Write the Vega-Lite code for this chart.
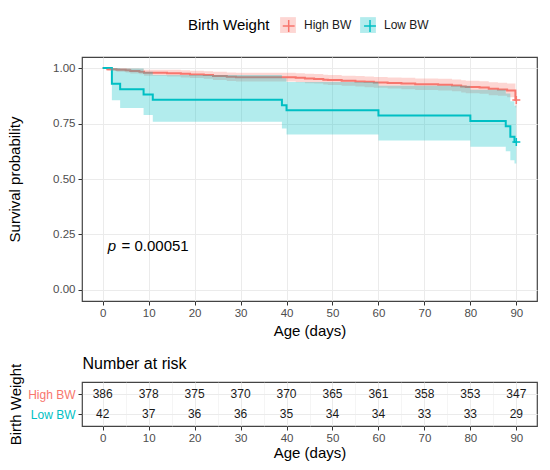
{
  "$schema": "https://vega.github.io/schema/vega-lite/v6.json",
  "padding": {"left": 7, "top": 17, "right": 5, "bottom": 0},
  "background": "white",
  "datasets": {
    "km": [
      {"g": "High BW", "t": 0, "s": 1, "lo": 1, "hi": 1},
      {"g": "High BW", "t": 1, "s": 0.995, "lo": 0.988, "hi": 1},
      {"g": "High BW", "t": 3, "s": 0.992, "lo": 0.983, "hi": 1},
      {"g": "High BW", "t": 5, "s": 0.99, "lo": 0.98, "hi": 1},
      {"g": "High BW", "t": 6, "s": 0.987, "lo": 0.976, "hi": 0.998},
      {"g": "High BW", "t": 8, "s": 0.984, "lo": 0.972, "hi": 0.997},
      {"g": "High BW", "t": 9, "s": 0.979, "lo": 0.965, "hi": 0.993},
      {"g": "High BW", "t": 14, "s": 0.977, "lo": 0.962, "hi": 0.992},
      {"g": "High BW", "t": 17, "s": 0.974, "lo": 0.958, "hi": 0.99},
      {"g": "High BW", "t": 19, "s": 0.9715, "lo": 0.955, "hi": 0.988},
      {"g": "High BW", "t": 22, "s": 0.969, "lo": 0.952, "hi": 0.986},
      {"g": "High BW", "t": 24, "s": 0.964, "lo": 0.946, "hi": 0.983},
      {"g": "High BW", "t": 27, "s": 0.961, "lo": 0.942, "hi": 0.98},
      {"g": "High BW", "t": 29, "s": 0.9585, "lo": 0.939, "hi": 0.979},
      {"g": "High BW", "t": 42, "s": 0.956, "lo": 0.936, "hi": 0.977},
      {"g": "High BW", "t": 44, "s": 0.953, "lo": 0.932, "hi": 0.974},
      {"g": "High BW", "t": 46, "s": 0.951, "lo": 0.93, "hi": 0.973},
      {"g": "High BW", "t": 48, "s": 0.948, "lo": 0.926, "hi": 0.97},
      {"g": "High BW", "t": 49, "s": 0.946, "lo": 0.924, "hi": 0.969},
      {"g": "High BW", "t": 52, "s": 0.943, "lo": 0.92, "hi": 0.966},
      {"g": "High BW", "t": 55, "s": 0.94, "lo": 0.917, "hi": 0.964},
      {"g": "High BW", "t": 57, "s": 0.938, "lo": 0.914, "hi": 0.962},
      {"g": "High BW", "t": 59, "s": 0.935, "lo": 0.911, "hi": 0.96},
      {"g": "High BW", "t": 62, "s": 0.933, "lo": 0.908, "hi": 0.958},
      {"g": "High BW", "t": 65, "s": 0.93, "lo": 0.905, "hi": 0.956},
      {"g": "High BW", "t": 68, "s": 0.927, "lo": 0.901, "hi": 0.953},
      {"g": "High BW", "t": 73, "s": 0.925, "lo": 0.899, "hi": 0.952},
      {"g": "High BW", "t": 76, "s": 0.922, "lo": 0.896, "hi": 0.949},
      {"g": "High BW", "t": 78, "s": 0.917, "lo": 0.89, "hi": 0.945},
      {"g": "High BW", "t": 79, "s": 0.9145, "lo": 0.887, "hi": 0.943},
      {"g": "High BW", "t": 82, "s": 0.912, "lo": 0.884, "hi": 0.941},
      {"g": "High BW", "t": 84, "s": 0.907, "lo": 0.878, "hi": 0.936},
      {"g": "High BW", "t": 86, "s": 0.904, "lo": 0.875, "hi": 0.934},
      {"g": "High BW", "t": 88, "s": 0.899, "lo": 0.869, "hi": 0.93},
      {"g": "High BW", "t": 89.8, "s": 0.856, "lo": 0.822, "hi": 0.892},
      {"g": "High BW", "t": 90, "s": 0.856, "lo": 0.822, "hi": 0.892},
      {"g": "Low BW", "t": 0, "s": 1, "lo": 1, "hi": 1},
      {"g": "Low BW", "t": 2, "s": 0.929, "lo": 0.855, "hi": 1},
      {"g": "Low BW", "t": 3.8, "s": 0.905, "lo": 0.82, "hi": 0.998},
      {"g": "Low BW", "t": 8.9, "s": 0.881, "lo": 0.789, "hi": 0.984},
      {"g": "Low BW", "t": 10.9, "s": 0.857, "lo": 0.758, "hi": 0.969},
      {"g": "Low BW", "t": 39, "s": 0.833, "lo": 0.728, "hi": 0.954},
      {"g": "Low BW", "t": 40, "s": 0.81, "lo": 0.701, "hi": 0.937},
      {"g": "Low BW", "t": 60, "s": 0.786, "lo": 0.674, "hi": 0.92},
      {"g": "Low BW", "t": 80, "s": 0.762, "lo": 0.645, "hi": 0.902},
      {"g": "Low BW", "t": 87.7, "s": 0.738, "lo": 0.625, "hi": 0.885},
      {"g": "Low BW", "t": 88.7, "s": 0.69, "lo": 0.585, "hi": 0.85},
      {"g": "Low BW", "t": 89.6, "s": 0.667, "lo": 0.57, "hi": 0.83},
      {"g": "Low BW", "t": 90, "s": 0.667, "lo": 0.57, "hi": 0.83}
    ],
    "censor": [
      {"g": "High BW", "t": 90, "s": 0.856},
      {"g": "Low BW", "t": 90, "s": 0.667}
    ],
    "pval": [
      {"t": 1.1, "s": 0.2, "label": "p", "part": "p"},
      {"t": 4.1, "s": 0.2, "label": "= 0.00051", "part": "value"}
    ],
    "risk": [
      {"g": "High BW", "t": 0, "n": 386},
      {"g": "High BW", "t": 10, "n": 378},
      {"g": "High BW", "t": 20, "n": 375},
      {"g": "High BW", "t": 30, "n": 370},
      {"g": "High BW", "t": 40, "n": 370},
      {"g": "High BW", "t": 50, "n": 365},
      {"g": "High BW", "t": 60, "n": 361},
      {"g": "High BW", "t": 70, "n": 358},
      {"g": "High BW", "t": 80, "n": 353},
      {"g": "High BW", "t": 90, "n": 347},
      {"g": "Low BW", "t": 0, "n": 42},
      {"g": "Low BW", "t": 10, "n": 37},
      {"g": "Low BW", "t": 20, "n": 36},
      {"g": "Low BW", "t": 30, "n": 36},
      {"g": "Low BW", "t": 40, "n": 35},
      {"g": "Low BW", "t": 50, "n": 34},
      {"g": "Low BW", "t": 60, "n": 34},
      {"g": "Low BW", "t": 70, "n": 33},
      {"g": "Low BW", "t": 80, "n": 33},
      {"g": "Low BW", "t": 90, "n": 29}
    ]
  },
  "spacing": 14,
  "vconcat": [
    {
      "width": 455,
      "height": 244,
      "layer": [
        {
          "data": {"name": "km"},
          "mark": {"type": "line", "interpolate": "step-after", "strokeWidth": 2},
          "encoding": {
            "x": {
              "field": "t", "type": "quantitative",
              "scale": {"domain": [-4.5, 94.5], "nice": false, "zero": false},
              "axis": {
                "title": "Age (days)",
                "values": [0, 5, 10, 15, 20, 25, 30, 35, 40, 45, 50, 55, 60, 65, 70, 75, 80, 85, 90],
                "labelExpr": "datum.value % 10 === 0 ? datum.label : ''",
                "tickOpacity": {"condition": {"test": "datum.value % 10 !== 0", "value": 0}, "value": 1},
                "gridWidth": {"condition": {"test": "datum.value % 10 !== 0", "value": 0.5}, "value": 1},
                "titlePadding": 5
              }
            },
            "y": {
              "field": "s", "type": "quantitative",
              "scale": {"domain": [-0.05, 1.05], "nice": false, "zero": false},
              "axis": {
                "title": "Survival probability",
                "values": [0, 0.125, 0.25, 0.375, 0.5, 0.625, 0.75, 0.875, 1],
                "format": ".2f",
                "labelExpr": "(datum.value * 4) % 1 === 0 ? datum.label : ''",
                "tickOpacity": {"condition": {"test": "(datum.value * 4) % 1 !== 0", "value": 0}, "value": 1},
                "gridWidth": {"condition": {"test": "(datum.value * 4) % 1 !== 0", "value": 0.5}, "value": 1},
                "titlePadding": 30
              }
            },
            "stroke": {
              "field": "g", "type": "nominal",
              "scale": {"domain": ["High BW", "Low BW"], "range": ["#F8766D", "#00BFC4"]},
              "legend": {
                "title": null,
                "orient": "none",
                "legendX": 197.7,
                "legendY": -40,
                "direction": "horizontal",
                "labelExpr": "''",
                "columnPadding": 55.3,
                "symbolType": "M-0.75,0H0.75M0,-0.75V0.75",
                "symbolSize": 250,
                "symbolStrokeWidth": 1.5,
                "symbolFillColor": "transparent",
                "zindex": 2
              }
            }
          }
        },
        {
          "data": {"name": "km"},
          "mark": {"type": "area", "interpolate": "step-after", "opacity": 0.3},
          "encoding": {
            "x": {"field": "t", "type": "quantitative", "scale": {"domain": [-4.5, 94.5], "nice": false, "zero": false}},
            "y": {"field": "lo", "type": "quantitative", "scale": {"domain": [-0.05, 1.05], "nice": false, "zero": false}, "title": "Survival probability"},
            "y2": {"field": "hi"},
            "fill": {
              "field": "g", "type": "nominal",
              "scale": {"range": ["#F8766D", "#00BFC4"]},
              "legend": {
                "title": "Birth Weight",
                "orient": "none",
                "legendX": 106,
                "legendY": -40,
                "direction": "horizontal",
                "titleOrient": "left",
                "symbolType": "square",
                "symbolSize": 250,
                "symbolOpacity": 0.3,
                "symbolStrokeWidth": 0,
                "zindex": 1
              }
            }
          }
        },
        {
          "data": {"name": "censor"},
          "mark": {"type": "point", "shape": "M-1,0H1M0,-1V1", "filled": false, "size": 64, "strokeWidth": 1.5, "opacity": 1},
          "encoding": {
            "x": {"field": "t", "type": "quantitative"},
            "y": {"field": "s", "type": "quantitative"},
            "stroke": {"field": "g", "type": "nominal"}
          }
        },
        {
          "data": {"name": "pval"},
          "transform": [{"filter": "datum.part === 'p'"}],
          "mark": {"type": "text", "align": "left", "baseline": "middle", "fontSize": 15, "fontStyle": "italic", "color": "#000000"},
          "encoding": {
            "x": {"field": "t", "type": "quantitative"},
            "y": {"field": "s", "type": "quantitative"},
            "text": {"field": "label"}
          }
        },
        {
          "data": {"name": "pval"},
          "transform": [{"filter": "datum.part === 'value'"}],
          "mark": {"type": "text", "align": "left", "baseline": "middle", "fontSize": 15, "color": "#000000"},
          "encoding": {
            "x": {"field": "t", "type": "quantitative"},
            "y": {"field": "s", "type": "quantitative"},
            "text": {"field": "label"}
          }
        }
      ]
    },
    {
      "width": 455,
      "height": 44,
      "data": {"name": "risk"},
      "layer": [
        {
          "mark": {"type": "text", "fontSize": 12, "color": "#1A1A1A"},
          "encoding": {
            "x": {
              "field": "t", "type": "quantitative",
              "scale": {"domain": [-4.5, 94.5], "nice": false, "zero": false},
              "axis": {
                "title": "Age (days)",
                "values": [0, 5, 10, 15, 20, 25, 30, 35, 40, 45, 50, 55, 60, 65, 70, 75, 80, 85, 90],
                "labelExpr": "datum.value % 10 === 0 ? datum.label : ''",
                "tickOpacity": {"condition": {"test": "datum.value % 10 !== 0", "value": 0}, "value": 1},
                "gridWidth": {"condition": {"test": "datum.value % 10 !== 0", "value": 0.5}, "value": 1},
                "titlePadding": 2
              }
            },
            "y": {
              "field": "g", "type": "nominal",
              "sort": ["High BW", "Low BW"],
              "scale": {"type": "point", "padding": 0.6},
              "axis": {
                "title": "Birth Weight",
                "labelFontSize": 12,
                "labelColor": {"condition": {"test": "datum.value === 'High BW'", "value": "#F8766D"}, "value": "#00BFC4"},
                "titlePadding": 4,
                "grid": true
              }
            },
            "text": {"field": "n", "type": "quantitative"}
          }
        },
        {
          "mark": {"type": "point", "opacity": 0},
          "encoding": {
            "x": {
              "field": "t", "type": "quantitative",
              "scale": {"domain": [-4.5, 94.5], "nice": false, "zero": false},
              "axis": {
                "orient": "top",
                "title": "Number at risk",
                "titleAnchor": "start",
                "titleFontSize": 16,
                "titleColor": "#000000",
                "titlePadding": 11,
                "labels": false,
                "ticks": false,
                "grid": false,
                "domain": false
              }
            }
          }
        }
      ],
      "resolve": {"axis": {"x": "independent"}}
    }
  ],
  "config": {
    "font": "Liberation Sans",
    "view": {"stroke": "#444444", "strokeWidth": 1.2},
    "axis": {
      "domain": false,
      "grid": true,
      "gridColor": "#EBEBEB",
      "tickColor": "#333333",
      "tickSize": 4,
      "labelColor": "#4D4D4D",
      "labelFontSize": 11.5,
      "labelPadding": 3,
      "labelFlush": false,
      "labelOverlap": false,
      "titleFontSize": 15,
      "titleFontWeight": "normal",
      "titleColor": "#000000"
    },
    "axisX": {"labelPadding": 2},
    "legend": {
      "titleFontSize": 15,
      "titleFontWeight": "normal",
      "titleColor": "#000000",
      "titlePadding": 10,
      "labelFontSize": 12,
      "labelColor": "#1A1A1A",
      "columnPadding": 8,
      "labelOffset": 8
    }
  }
}
